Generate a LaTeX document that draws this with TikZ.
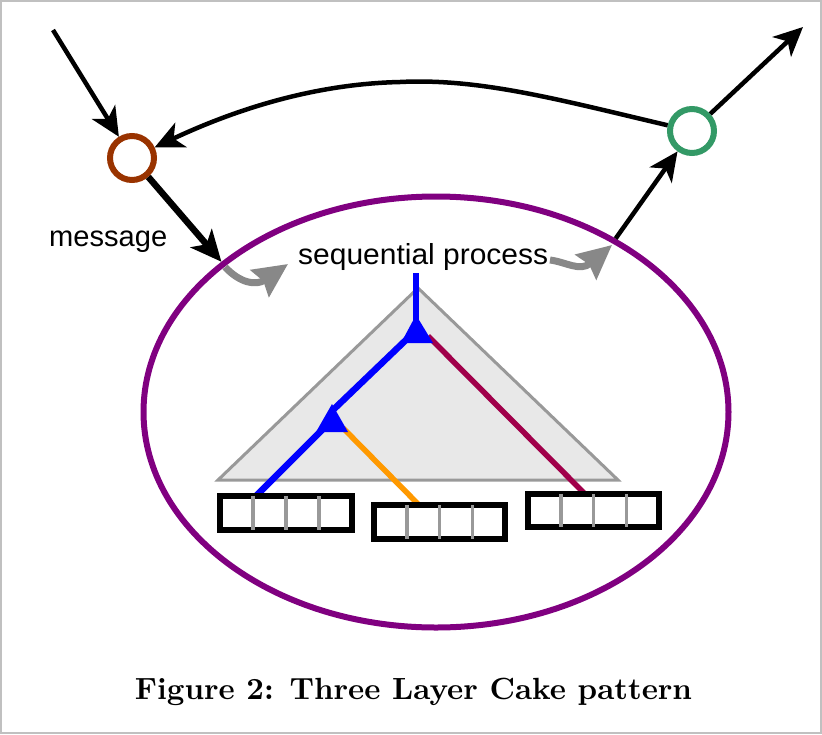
\documentclass[tikz,border=0pt]{standalone}
\usepackage{fontspec}
\usepackage{graphicx}
\usetikzlibrary{arrows.meta,shapes.geometric}
\newfontfamily\lsans{Liberation Sans}
\definecolor{cbrown}{HTML}{993300}
\definecolor{cgreen}{HTML}{339966}
\definecolor{cpurple}{HTML}{800080}
\definecolor{cblue}{HTML}{0000FF}
\definecolor{corange}{HTML}{FF9900}
\definecolor{cmaroon}{HTML}{A0004A}
\definecolor{carrowgray}{HTML}{888888}
\definecolor{ctrifill}{HTML}{E8E8E8}
\definecolor{ctriedge}{HTML}{999999}
\definecolor{cframe}{HTML}{C0C0C0}
\tikzset{
  port/.style={circle, draw=#1, line width=6pt, fill=white, minimum size=44pt, inner sep=0pt},
  blackarrow/.style={draw=black, line width=4.5pt, -{Stealth[length=29pt,width=27pt,inset=8pt]}},
  thickarrow/.style={draw=black, line width=6.5pt, -{Stealth[length=31pt,width=28pt,inset=8pt]}},
  grayarrow/.style={draw=carrowgray, line width=7pt, -{Stealth[length=34pt,width=32pt,inset=4pt]}},
  bufbox/.style={rectangle, draw=black, line width=6.5pt, fill=white, inner sep=0pt},
  divider/.style={draw=ctriedge, line width=3.5pt},
  labeltext/.style={inner sep=0pt, text=black},
}
\newcommand{\lbl}[2]{\resizebox{#1}{\height}{\fontsize{29}{33}\selectfont\lsans #2}}
\begin{document}
\begin{tikzpicture}[x=1pt,y=-1pt]
\useasboundingbox (0,0) rectangle (822,734);
\draw[cframe, line width=2pt] (1,1) rectangle (821,733);

% main process ellipse
\node[ellipse, draw=cpurple, line width=6pt, minimum width=585pt, minimum height=431pt, inner sep=0pt] (proc) at (436,412) {};

% ports
\node[port=cbrown] (in) at (132,158) {};
\node[port=cgreen] (out) at (692,131) {};

% free ends
\coordinate (src) at (53,30);
\coordinate (dst) at (803,27);
\coordinate (topc) at (400,82);

% connectors
\draw[blackarrow] (src) -- (in);
\draw[blackarrow] (out) .. controls (560,100) and (480,78) .. (topc) .. controls (310,84) and (230,112) .. (in);
\draw[thickarrow] (in) -- (proc.145);
\draw[blackarrow] (proc.44) -- (out);
\draw[blackarrow] (out) -- (dst);

% gray curly arrows
\coordinate (g1s) at (225,267);
\coordinate (g1e) at (288,264);
\coordinate (g2s) at (550,260);
\coordinate (g2e) at (612,245);
\draw[grayarrow] (g1s) .. controls (240,283) and (256,286) .. (g1e);
\draw[grayarrow] (g2s) .. controls (566,262) and (580,272) .. (g2e);

% labels
\node[labeltext, anchor=base west] (msg) at (49,246) {\lbl{118pt}{message}};
\node[labeltext, anchor=base west] (seq) at (298,264) {\lbl{250pt}{sequential process}};

% tree triangle
\coordinate (ta) at (418,288);
\coordinate (tr) at (618,480);
\coordinate (tl) at (218,480);
\draw[fill=ctrifill, draw=ctriedge, line width=3pt, line join=miter] (ta) -- (tr) -- (tl) -- cycle;

% tree edges
\coordinate (j0) at (416,273);
\coordinate (j1) at (416,322);
\coordinate (j2) at (333,410);
\draw[cmaroon, line width=5.5pt] (428,336) -- (587,496);
\draw[corange, line width=5.5pt] (343,428) -- (420,506);
\draw[cblue, line width=6.5pt] (j0) -- (j1);
\draw[cblue, line width=6.5pt] (408,338) -- (j2);
\draw[cblue, line width=6.5pt] (326,426) -- (255,497);
\fill[cblue] (416,315) -- (401,343) -- (433,343) -- cycle;
\fill[cblue] (332,404) -- (316,432) -- (348,432) -- cycle;

% buffers
\node[bufbox, minimum width=132pt, minimum height=34pt] (b1) at (286,513) {};
\node[bufbox, minimum width=131pt, minimum height=34pt] (b2) at (439.5,522) {};
\node[bufbox, minimum width=131pt, minimum height=33pt] (b3) at (593.5,510.5) {};
\foreach \b/\x/\w/\h in {b1/286/132/34, b2/439.5/131/34, b3/593.5/131/33}{
  \foreach \k in {-1,0,1}{
    \draw[divider] ([xshift=\k*\w/4*1pt, yshift=-3pt]\b.north) -- ([xshift=\k*\w/4*1pt, yshift=3pt]\b.south);
  }
}

% caption
\node[inner sep=0pt, anchor=base] (cap) at (413.5,699) {\resizebox{557pt}{!}{\bfseries Figure 2: Three Layer Cake pattern}};
\end{tikzpicture}
\end{document}
